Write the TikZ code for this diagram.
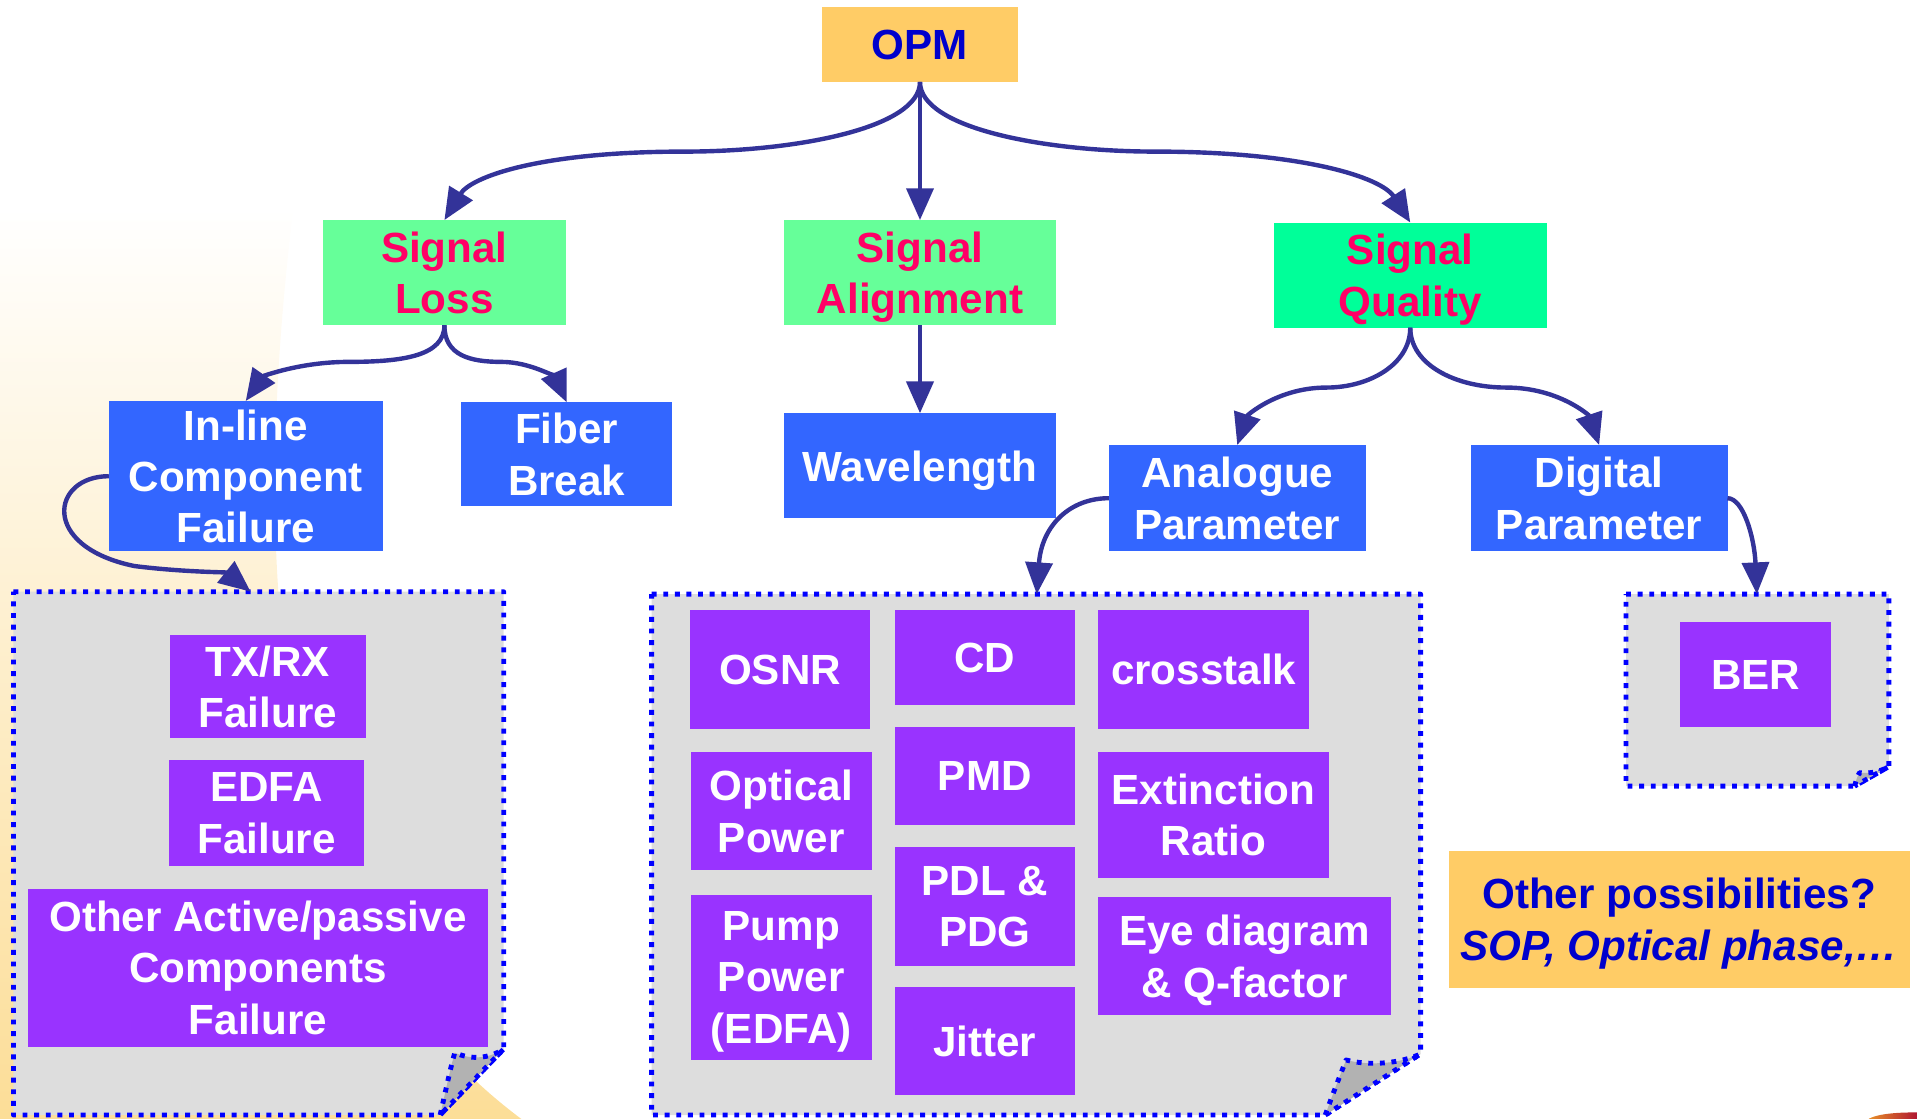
\documentclass[tikz,border=0pt]{standalone}
\usepackage{fontspec}
\setmainfont{Liberation Sans}
\usetikzlibrary{arrows.meta}

\definecolor{opmfill}{HTML}{FFCC66}
\definecolor{navy}{HTML}{0000CC}
\definecolor{lossfill}{HTML}{66FF99}
\definecolor{qualfill}{HTML}{00FF99}
\definecolor{sigtext}{HTML}{FF0066}
\definecolor{bluefill}{HTML}{3366FF}
\definecolor{purp}{HTML}{9933FF}
\definecolor{panelgray}{HTML}{DDDDDD}
\definecolor{foldgray}{HTML}{B2B2B2}
\definecolor{dotblue}{HTML}{0000FF}
\definecolor{arrowcol}{HTML}{333399}
\definecolor{bgorange}{RGB}{252,221,150}
\definecolor{blobred}{RGB}{170,10,50}
\definecolor{bloborange}{RGB}{235,150,40}

\newcommand{\bigfont}{\fontsize{34.5}{42}\selectfont\bfseries}

\tikzset{
  sz/.style 2 args={minimum width=#1pt, minimum height=#2pt},
  box/.style={inner sep=0pt, outer sep=0pt, align=center, font=\bigfont, text=white, text depth=-5pt},
  opmbox/.style={box, fill=opmfill, text=navy},
  sigbox/.style={box, fill=lossfill, text=sigtext},
  bluebox/.style={box, fill=bluefill},
  purpbox/.style={box, fill=purp},
  conn/.style={draw=arrowcol, line width=3.6pt, -{Triangle[length=26pt,width=22pt]}},
  panel/.style={fill=panelgray, draw=dotblue, line width=4pt, dash pattern=on 4pt off 5.5pt, line join=round},
  flap/.style={fill=foldgray, draw=dotblue, line width=4pt, dash pattern=on 4pt off 5.5pt, line join=round},
  ghost/.style={inner sep=0pt, outer sep=0pt}
}

\begin{document}
\begin{tikzpicture}[x=1pt,y=-1pt]
\useasboundingbox (0,0) rectangle (1568,915);

% background swoosh
\begin{scope}
  \clip (0,0) rectangle (1568,915);
  \shade[top color=white, bottom color=bgorange]
    (0,170) -- (240,170) .. controls (200,500) and (230,780) .. (440,925) -- (0,925) -- cycle;
  \shade[left color=bloborange, right color=blobred]
    (1526,917) .. controls (1532,911) and (1552,909.5) .. (1572,910) -- (1572,917) -- cycle;
\end{scope}

% panels
\draw[panel] (11,484) -- (412,484) -- (412,858) -- (360,912) -- (11,912) -- cycle;
\draw[flap] (360,912) .. controls (364,895) and (368,875) .. (372,861)
            .. controls (385,867) and (400,866) .. (412,858) -- cycle;
\node[ghost, sz={401}{428}] (lp) at (211.5,698) {};

\draw[panel] (533,486) -- (1162,486) -- (1162,862) -- (1084,912) -- (533,912) -- cycle;
\draw[flap] (1084,912) .. controls (1090,895) and (1096,880) .. (1101,867)
            .. controls (1120,872) and (1145,870) .. (1162,862) -- cycle;
\node[ghost, sz={629}{426}] (mp) at (847.5,699) {};

\draw[panel] (1330,486) -- (1545,486) -- (1545,627) -- (1517,643) -- (1330,643) -- cycle;
\draw[flap] (1517,643) .. controls (1518,639) and (1519,635) .. (1521,632)
            .. controls (1530,633) and (1538,631) .. (1545,627) -- cycle;
\node[ghost, sz={215}{157}] (rp) at (1437.5,564.5) {};

% main boxes
\node[opmbox, sz={161}{61}] (opm) at (752.5,36.5) {OPM};
\node[sigbox, sz={199}{86}] (sl) at (363.5,223) {Signal\\Loss};
\node[sigbox, sz={223}{86}] (sa) at (752.5,223) {Signal\\Alignment};
\node[sigbox, fill=qualfill, sz={223}{86}] (sq) at (1153.5,225) {Signal\\Quality};
\node[bluebox, sz={224}{123}] (inl) at (201,389.5) {In-line\\Component\\Failure};
\node[bluebox, sz={173}{85}] (fb) at (463.5,371.5) {Fiber\\Break};
\node[bluebox, sz={223}{86}] (wl) at (752.5,381) {Wavelength};
\node[bluebox, sz={210}{87}] (ap) at (1012,407.5) {Analogue\\Parameter};
\node[bluebox, sz={210}{87}] (dp) at (1308,407.5) {Digital\\Parameter};

% left panel content
\node[purpbox, sz={160}{85}] (txrx) at (219,561.5) {TX/RX\\Failure};
\node[purpbox, sz={160}{86}] (edfa) at (218,665) {EDFA\\Failure};
\node[purpbox, sz={376}{129}] (oth) at (211,791.5) {Other Active/passive\\Components\\Failure};

% middle panel content
\node[purpbox, sz={148}{97}] (osnr) at (638,547.5) {OSNR};
\node[purpbox, sz={147}{78}] (cd) at (805.5,538) {CD};
\node[purpbox, sz={173}{97}] (xt) at (984.5,547.5) {crosstalk};
\node[purpbox, sz={148}{97}] (op) at (639,663.5) {Optical\\Power};
\node[purpbox, sz={147}{80}] (pmd) at (805.5,635) {PMD};
\node[purpbox, sz={189}{103}] (er) at (992.5,666.5) {Extinction\\Ratio};
\node[purpbox, sz={148}{135}] (pp) at (639,799.5) {Pump\\Power\\(EDFA)};
\node[purpbox, sz={147}{97}] (pdl) at (805.5,741.5) {PDL \&\\PDG};
\node[purpbox, sz={240}{96}] (eye) at (1018,782) {Eye diagram\\\& Q-factor};
\node[purpbox, sz={147}{89}] (jit) at (805.5,851.5) {Jitter};

% right panel content
\node[purpbox, sz={124}{86}] (ber) at (1436,552) {BER};

% other possibilities
\node[opmbox, sz={377}{112}] (other) at (1373.5,752) {Other possibilities?\\\textit{SOP, Optical phase,…}};

% waypoints and connector ends
\coordinate (m1) at (560,124);
\coordinate (m3) at (945,124);
\coordinate (m4) at (285,296);
\coordinate (m5) at (410,296);
\coordinate (m7) at (1085,317);
\coordinate (m8) at (1232,317);
\coordinate (m9) at (110,463);
\coordinate (lpin) at (205,484);
\coordinate (mpin) at (848,486);
\coordinate (rpin) at (1437,486);

% connectors
\draw[conn] (opm.south) .. controls +(0,38) and (650,124) .. (m1)
            .. controls (440,124) and (385,145) .. (sl.north);
\draw[conn] (opm.south) -- (sa.north);
\draw[conn] (opm.south) .. controls +(0,38) and (855,124) .. (m3)
            .. controls (1065,124) and (1130,145) .. (sq.north);
\draw[conn] (sl.south) .. controls +(0,25) and (330,296) .. (m4)
            .. controls (245,296) and (215,308) .. (inl.north);
\draw[conn] (sl.south) .. controls +(0,25) and (385,296) .. (m5)
            .. controls (435,296) and (455,310) .. (fb.north);
\draw[conn] (sa.south) -- (wl.north);
\draw[conn] (sq.south) .. controls +(0,30) and (1120,317) .. (m7)
            .. controls (1045,317) and (1020,340) .. (ap.north);
\draw[conn] (sq.south) .. controls +(0,30) and (1190,317) .. (m8)
            .. controls (1275,317) and (1300,340) .. (dp.north);
\draw[conn] (inl.west) .. controls (42,389.5) and (32,447) .. (m9)
            .. controls (150,468) and (185,468) .. (lpin);
\draw[conn] (ap.west) .. controls (875,407.5) and (852,430) .. (mpin);
\draw[conn] (dp.east) .. controls (1426,407.5) and (1435,440) .. (rpin);

\end{tikzpicture}
\end{document}
